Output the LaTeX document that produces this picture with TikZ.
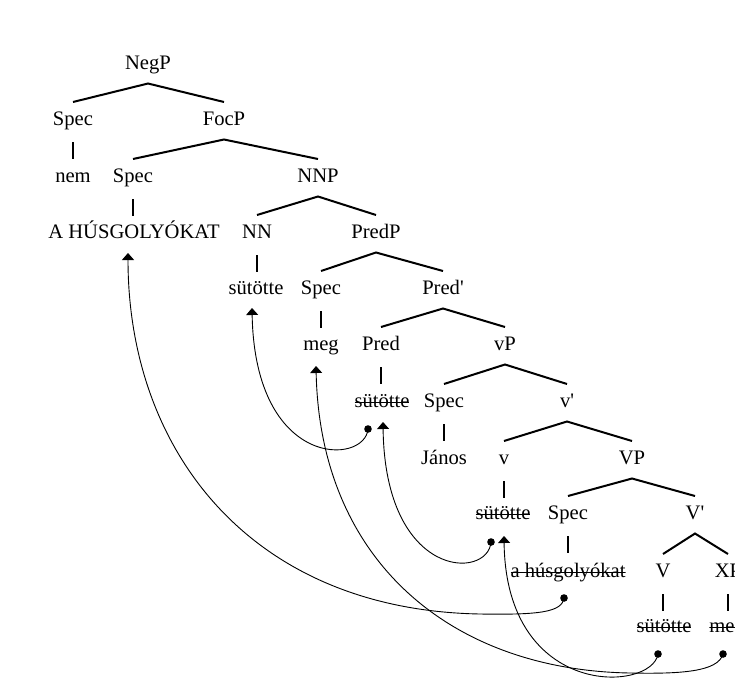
\documentclass[tikz,border=0pt]{standalone}
\usepackage{fontspec}
\setmainfont{Liberation Serif}
\usetikzlibrary{arrows.meta}
\begin{document}
\begin{tikzpicture}[x=1pt,y=-1pt,
  lbl/.style={inner sep=0pt, text height=13.5pt, text depth=0pt,
    font=\fontsize{20.6}{24}\selectfont},
  struck/.style={lbl, path picture={\draw[line width=1.1pt]
    ([yshift=-1.5pt]path picture bounding box.west) --
    ([yshift=-1.5pt]path picture bounding box.east);}},
  branch/.style={line width=2pt},
  move/.style={line width=0.9pt, -{Triangle[width=12pt,length=7pt]}},
  dot/.style={fill=black}
]
\useasboundingbox[fill=white] (0,0) rectangle (735,682);

% ---- tree labels ----
\node[lbl] (negp)    at (148,63)  {NegP};
\node[lbl] (spec1)   at (73,119)  {Spec};
\node[lbl] (focp)    at (224,119) {FocP};
\node[lbl] (nem)     at (73,176)  {nem};
\node[lbl] (spec2)   at (133,176) {Spec};
\node[lbl] (nnp)     at (318,176) {NNP};
\node[lbl] (ahus)    at (134,232) {A HÚSGOLYÓKAT};
\node[lbl] (nn)      at (257,232) {NN};
\node[lbl] (predp)   at (376,232) {PredP};
\node[lbl] (sut1)    at (256,288) {sütötte};
\node[lbl] (spec3)   at (321,288) {Spec};
\node[lbl] (predbar) at (443,288) {Pred\textquotesingle};
\node[lbl] (meg1)    at (321,344) {meg};
\node[lbl] (pred)    at (381,344) {Pred};
\node[lbl] (vp)      at (505,344) {vP};
\node[struck] (sut2) at (382,401) {sütötte};
\node[lbl] (spec4)   at (444,401) {Spec};
\node[lbl] (vbar)    at (567,401) {v\textquotesingle};
\node[lbl] (janos)   at (444,458) {János};
\node[lbl] (v)       at (504,458) {v};
\node[lbl] (bigvp)   at (632,458) {VP};
\node[struck] (sut3) at (503,513) {sütötte};
\node[lbl] (spec5)   at (568,513) {Spec};
\node[lbl] (bigvbar) at (695,513) {V\textquotesingle};
\node[struck] (hus)  at (568,571) {a húsgolyókat};
\node[lbl] (bigv)    at (663,571) {V};
\node[lbl] (xp)      at (728,571) {XP};
\node[struck] (sut4) at (664,626) {sütötte};
\node[struck] (meg2) at (727,626) {meg};

% ---- binary branches ----
\foreach \p/\l/\r in {negp/spec1/focp, focp/spec2/nnp, nnp/nn/predp,
    predp/spec3/predbar, predbar/pred/vp, vp/spec4/vbar, vbar/v/bigvp,
    bigvp/spec5/bigvbar, bigvbar/bigv/xp}{
  \draw[branch] ([yshift=17pt]\l.center) -- ([yshift=-20.5pt]\p.center)
    -- ([yshift=17pt]\r.center);
}
% ---- unary branches (straight down from the parent towards the child) ----
\foreach \p/\c in {spec1/nem, spec2/ahus, nn/sut1, spec3/meg1, pred/sut2,
    spec4/janos, v/sut3, spec5/hus, bigv/sut4, xp/meg2}{
  \draw[branch] ([yshift=-23pt]\p.center) -- ++(0,16.5);
}

% ---- movement arrows ----
\coordinate (tipHus)  at (128,253);
\coordinate (tipNN)   at (252,308);
\coordinate (tipMeg)  at (316,366);
\coordinate (tipPred) at (383,422);
\coordinate (tipV)    at (504,536);
\coordinate (dotPred) at (368,429);
\coordinate (dotV)    at (491,542);
\coordinate (dotHus)  at (564,598);
\coordinate (dotVV)   at (658,654);
\coordinate (dotMeg)  at (723,654);

\draw[move] (dotHus) .. controls (562,612) and (540,615) .. (480,614)
  .. controls (250,610) and (128,450) .. (tipHus);
\draw[move] (dotVV) .. controls (652,692) and (506,700) .. (tipV);
\draw[move] (dotMeg) .. controls (718,672) and (680,674) .. (630,673)
  .. controls (450,670) and (320,560) .. (tipMeg);
\draw[move] (dotPred) .. controls (365,465) and (255,470) .. (tipNN);
\draw[move] (dotV) .. controls (488,580) and (385,580) .. (tipPred);

\foreach \d in {dotPred, dotV, dotHus, dotVV, dotMeg}{
  \fill[dot] (\d) circle[radius=3.8pt];
}
\end{tikzpicture}
\end{document}
